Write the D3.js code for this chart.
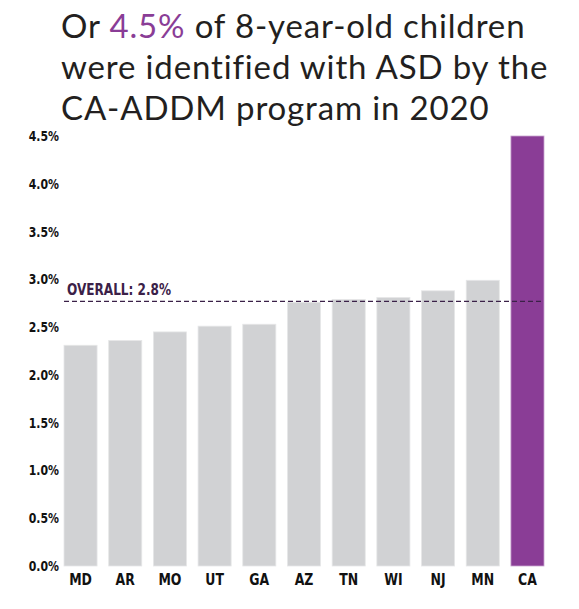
<!DOCTYPE html>
<html>
<head>
<meta charset="utf-8">
<script src="https://cdn.jsdelivr.net/npm/d3@7"></script>
<style>
  body { margin: 0; background: #fff; }
  .title { font-family: Lato, "Open Sans", sans-serif; font-size: 33px; letter-spacing: 0.85px; fill: #231f20; }
  .tick text { font-family: "DejaVu Sans", sans-serif; font-weight: bold; fill: #111; }
</style>
</head>
<body>
<svg id="chart"></svg>
<script>
// data
const sites = ["MD", "AR", "MO", "UT", "GA", "AZ", "TN", "WI", "NJ", "MN", "CA"];
const prevalence = [2.31, 2.36, 2.45, 2.51, 2.53, 2.76, 2.79, 2.81, 2.88, 2.99, 4.5];
const highlight = "CA";
const overall = 2.77;
const overallLabel = "OVERALL: 2.8%";
const yTicks = [0, 0.5, 1, 1.5, 2, 2.5, 3, 3.5, 4, 4.5];
const titleLines = [
  ["Or ", ["4.5%", true], " of 8-year-old children"],
  ["were identified with ASD by the"],
  ["CA-ADDM program in 2020"]
];

const width = 579, height = 609;
const margin = { top: 136, right: 35, bottom: 43, left: 64 };
const squeeze = 0.78;   // narrow the labels like a condensed face

const svg = d3.select("#chart")
  .attr("width", width)
  .attr("height", height);

// title
const title = svg.append("text")
  .attr("class", "title")
  .attr("x", 62);

titleLines.forEach((line, i) => {
  line.forEach((part, j) => {
    let isHi = Array.isArray(part);
    let t = title.append("tspan")
      .text(isHi ? part[0] : part)
      .attr("fill", isHi ? "#8a3d96" : null);
    if (j == 0) t.attr("x", 61).attr("y", 38 + i * 41);
  });
});

const innerW = width - margin.left - margin.right;
const innerH = height - margin.top - margin.bottom;

const chart = svg.append("g")
  .attr("transform", `translate(${margin.left},${margin.top})`);

const xScale = d3.scaleBand()
  .domain(sites)
  .range([0, innerW])
  .paddingInner(0.26)
  .paddingOuter(0);

const yScale = d3.scaleLinear()
  .domain([0, 4.5])
  .range([innerH, 0]);

// bars
chart.selectAll("rect.bar")
  .data(sites)
  .join("rect")
    .attr("class", "bar")
    .attr("x", d => xScale(d))
    .attr("y", (d, i) => yScale(prevalence[i]))
    .attr("width", xScale.bandwidth())
    .attr("height", (d, i) => innerH - yScale(prevalence[i]))
    .attr("fill", d => d == highlight ? "#8a3d96" : "#d1d2d4")
    .attr("stroke", d => d == highlight ? "#c9a6cf" : "#e6e7e8")
    .attr("stroke-width", 0.8);

// overall line
chart.append("line")
  .attr("x1", 0)
  .attr("x2", innerW)
  .attr("y1", yScale(overall))
  .attr("y2", yScale(overall))
  .attr("stroke", "#3b2148")
  .attr("stroke-width", 1.2)
  .attr("stroke-dasharray", "5,3");

chart.append("text")
  .attr("transform", `translate(3,${yScale(overall) - 6}) scale(${squeeze},1)`)
  .attr("font-family", "'DejaVu Sans', sans-serif")
  .attr("font-weight", "bold")
  .attr("font-size", 15.5)
  .attr("fill", "#3b2148")
  .text(overallLabel);

// axes
const yAxis = d3.axisLeft(yScale)
  .tickValues(yTicks)
  .tickFormat(d => d3.format(".1f")(d) + "%")
  .tickSize(0)
  .tickPadding(5);

const yAxisG = chart.append("g").call(yAxis);
yAxisG.select(".domain").remove();
yAxisG.selectAll("text")
  .style("font-size", "14px")
  .attr("x", -5 / squeeze)
  .attr("transform", `scale(${squeeze},1)`);

const xAxis = d3.axisBottom(xScale)
  .tickSize(0)
  .tickPadding(8);

const xAxisG = chart.append("g")
  .attr("transform", `translate(0,${innerH})`)
  .call(xAxis);
xAxisG.select(".domain").remove();
xAxisG.selectAll("text")
  .style("font-size", "16px")
  .attr("transform", `scale(${squeeze},1)`);
</script>
</body>
</html>
